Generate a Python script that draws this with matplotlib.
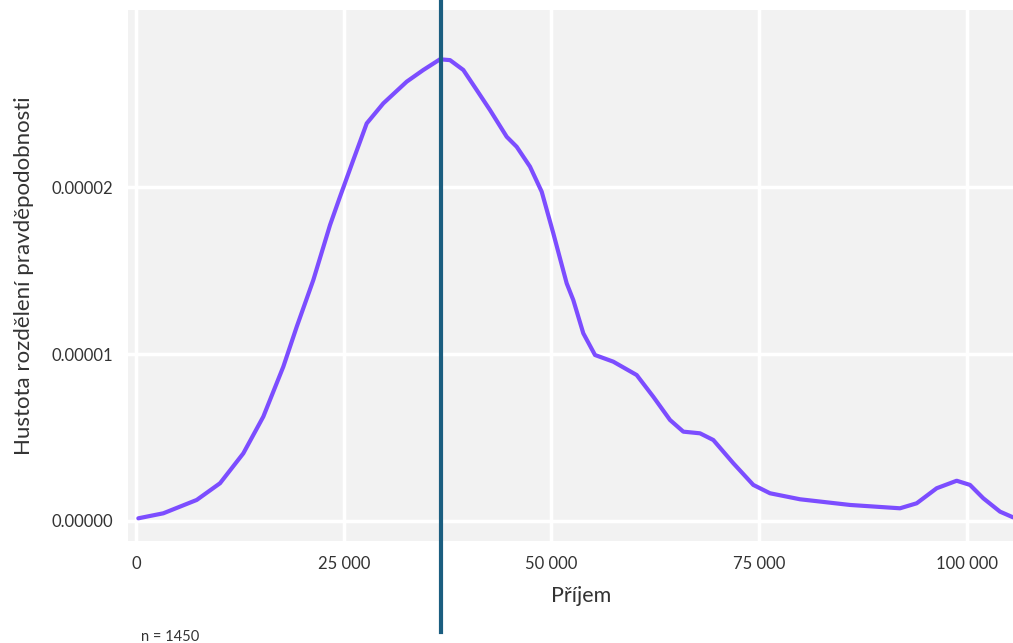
import matplotlib.pyplot as plt
from matplotlib.ticker import FuncFormatter

plt.rcParams['font.family'] = ['Lato', 'DejaVu Sans']

# odhad hustoty (hustota v jednotkách 1e-6)
prijem = [277, 3285, 7305, 10109, 12912, 15319, 17726, 19339, 21336, 23346,
          24549, 26150, 27762, 29760, 32576, 34574, 36583, 37787, 39388,
          41000, 42600, 44610, 45813, 47414, 48822, 50218, 51830, 52625,
          53828, 55236, 57438, 60254, 62252, 64262, 65862, 67872, 69473,
          71879, 74286, 76296, 79906, 85923, 91940, 93950, 96356, 98763,
          100364, 101964, 103974, 105538]
hustota = [0.16, 0.46, 1.26, 2.26, 4.05, 6.25, 9.24, 11.63, 14.43, 17.72,
           19.42, 21.62, 23.81, 25.01, 26.31, 27.01, 27.65, 27.60, 27.01,
           25.81, 24.61, 23.01, 22.41, 21.22, 19.72, 17.23, 14.23, 13.23,
           11.24, 9.94, 9.54, 8.74, 7.44, 6.05, 5.35, 5.25, 4.85,
           3.46, 2.16, 1.66, 1.30, 0.96, 0.76, 1.06, 1.96, 2.41,
           2.16, 1.36, 0.56, 0.22]
hustota = [h * 1e-6 for h in hustota]
median = 36700
n = 1450

x_ticks = [0, 25000, 50000, 75000, 100000]
y_ticks = [0, 0.00001, 0.00002]

fig = plt.figure(figsize=(10.13, 6.43), dpi=100)
ax = fig.add_axes([0.1264, 0.1586, 0.8736, 0.8258])
ax.set_facecolor('#f2f2f2')
for s in ax.spines.values():
    s.set_visible(False)

ax.plot(prijem, hustota, color='#7c4dff', lw=3, solid_capstyle='round',
        solid_joinstyle='round', zorder=3)
ax.axvline(median, ymin=-0.171, ymax=1.02, color='#1b5e80', lw=3, clip_on=False, zorder=4)

ax.set_xlim(-960, 105540)
ax.set_ylim(-1.2e-6, 3.06e-5)
ax.set_xticks(x_ticks)
ax.set_yticks(y_ticks)
ax.xaxis.set_major_formatter(FuncFormatter(lambda v, p: f'{int(v):,}'.replace(',', ' ')))
ax.yaxis.set_major_formatter(FuncFormatter(lambda v, p: f'{v:.5f}'))
ax.grid(color='white', lw=2.5)
ax.set_axisbelow(True)
ax.tick_params(length=0, labelsize=12, colors='#333333')
ax.tick_params(axis='y', pad=11)
ax.tick_params(axis='x', pad=11)

ax.set_xlabel('Příjem', fontsize=15.5, color='#333333')
ax.xaxis.set_label_coords(0.512, -0.085)
ax.set_ylabel('Hustota rozdělení pravděpodobnosti', fontsize=16, color='#333333')
ax.yaxis.set_label_coords(-0.106, 0.5)
fig.text(0.139, 0.003, f'n = {n}', fontsize=10.5, color='#333333')

fig.savefig('out.png', dpi=100)
